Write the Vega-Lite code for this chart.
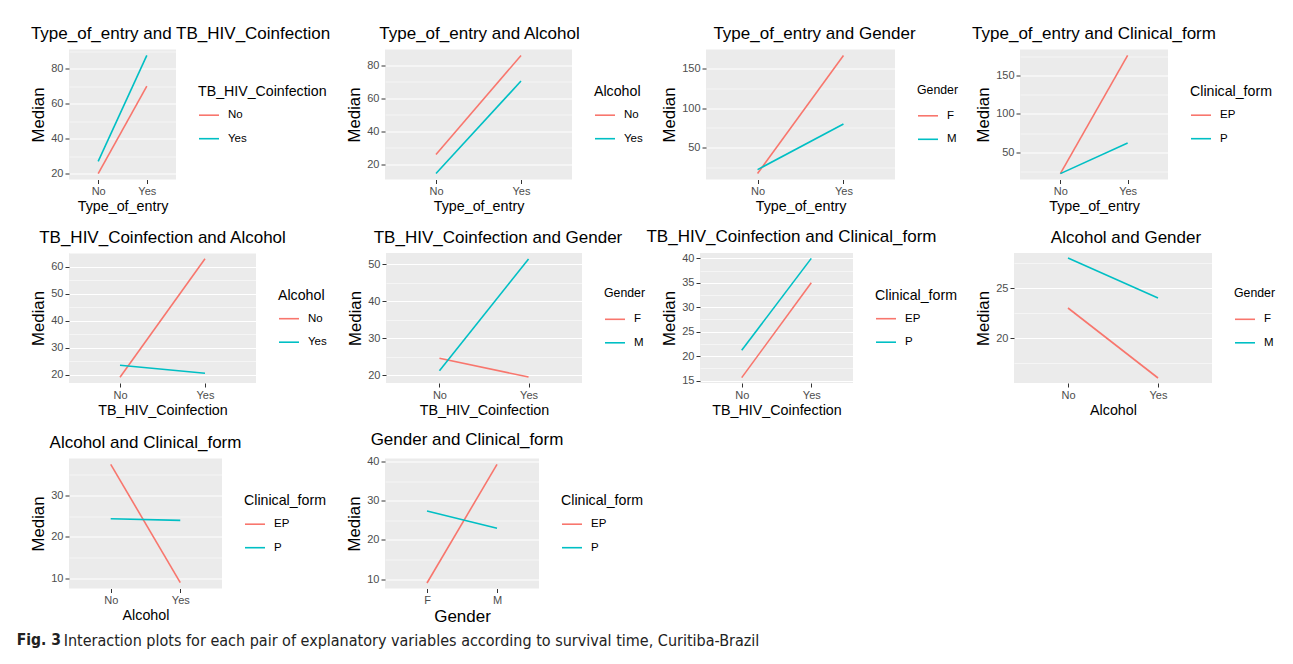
{
  "$schema": "https://vega.github.io/schema/vega-lite/v6.json",
  "background": "white",
  "padding": {"left": 16, "top": 24.5, "right": 0, "bottom": 0},
  "data": {"values": [
    {"panel": "Type_of_entry and TB_HIV_Coinfection", "x": "No", "group": "No", "median": 20},
    {"panel": "Type_of_entry and TB_HIV_Coinfection", "x": "Yes", "group": "No", "median": 70},
    {"panel": "Type_of_entry and TB_HIV_Coinfection", "x": "No", "group": "Yes", "median": 27},
    {"panel": "Type_of_entry and TB_HIV_Coinfection", "x": "Yes", "group": "Yes", "median": 87.5},
    {"panel": "Type_of_entry and Alcohol", "x": "No", "group": "No", "median": 26},
    {"panel": "Type_of_entry and Alcohol", "x": "Yes", "group": "No", "median": 86},
    {"panel": "Type_of_entry and Alcohol", "x": "No", "group": "Yes", "median": 14.5},
    {"panel": "Type_of_entry and Alcohol", "x": "Yes", "group": "Yes", "median": 70.5},
    {"panel": "Type_of_entry and Gender", "x": "No", "group": "F", "median": 17.5},
    {"panel": "Type_of_entry and Gender", "x": "Yes", "group": "F", "median": 166.5},
    {"panel": "Type_of_entry and Gender", "x": "No", "group": "M", "median": 22.5},
    {"panel": "Type_of_entry and Gender", "x": "Yes", "group": "M", "median": 80},
    {"panel": "Type_of_entry and Clinical_form", "x": "No", "group": "EP", "median": 22},
    {"panel": "Type_of_entry and Clinical_form", "x": "Yes", "group": "EP", "median": 176.5},
    {"panel": "Type_of_entry and Clinical_form", "x": "No", "group": "P", "median": 22},
    {"panel": "Type_of_entry and Clinical_form", "x": "Yes", "group": "P", "median": 62},
    {"panel": "TB_HIV_Coinfection and Alcohol", "x": "No", "group": "No", "median": 19},
    {"panel": "TB_HIV_Coinfection and Alcohol", "x": "Yes", "group": "No", "median": 63},
    {"panel": "TB_HIV_Coinfection and Alcohol", "x": "No", "group": "Yes", "median": 23.5},
    {"panel": "TB_HIV_Coinfection and Alcohol", "x": "Yes", "group": "Yes", "median": 20.5},
    {"panel": "TB_HIV_Coinfection and Gender", "x": "No", "group": "F", "median": 24.6},
    {"panel": "TB_HIV_Coinfection and Gender", "x": "Yes", "group": "F", "median": 19.5},
    {"panel": "TB_HIV_Coinfection and Gender", "x": "No", "group": "M", "median": 21.2},
    {"panel": "TB_HIV_Coinfection and Gender", "x": "Yes", "group": "M", "median": 51.4},
    {"panel": "TB_HIV_Coinfection and Clinical_form", "x": "No", "group": "EP", "median": 15.6},
    {"panel": "TB_HIV_Coinfection and Clinical_form", "x": "Yes", "group": "EP", "median": 35},
    {"panel": "TB_HIV_Coinfection and Clinical_form", "x": "No", "group": "P", "median": 21.2},
    {"panel": "TB_HIV_Coinfection and Clinical_form", "x": "Yes", "group": "P", "median": 40},
    {"panel": "Alcohol and Gender", "x": "No", "group": "F", "median": 23},
    {"panel": "Alcohol and Gender", "x": "Yes", "group": "F", "median": 16},
    {"panel": "Alcohol and Gender", "x": "No", "group": "M", "median": 28},
    {"panel": "Alcohol and Gender", "x": "Yes", "group": "M", "median": 24},
    {"panel": "Alcohol and Clinical_form", "x": "No", "group": "EP", "median": 37.5},
    {"panel": "Alcohol and Clinical_form", "x": "Yes", "group": "EP", "median": 9},
    {"panel": "Alcohol and Clinical_form", "x": "No", "group": "P", "median": 24.4},
    {"panel": "Alcohol and Clinical_form", "x": "Yes", "group": "P", "median": 24},
    {"panel": "Gender and Clinical_form", "x": "F", "group": "EP", "median": 9},
    {"panel": "Gender and Clinical_form", "x": "M", "group": "EP", "median": 39.3},
    {"panel": "Gender and Clinical_form", "x": "F", "group": "P", "median": 27.4},
    {"panel": "Gender and Clinical_form", "x": "M", "group": "P", "median": 23}
  ]},
  "title": {"text": "Fig. 3", "orient": "bottom", "anchor": "start", "font": "DejaVu Sans Condensed", "fontSize": 15.5, "fontWeight": "bold", "color": "#222222", "offset": 0, "dy": -4, "dx": -14, "baseline": "alphabetic"},
  "vconcat": [
    {
      "title": {"text": "Interaction plots for each pair of explanatory variables according to survival time, Curitiba-Brazil", "orient": "bottom", "anchor": "start", "font": "DejaVu Sans Condensed", "fontSize": 16, "fontWeight": "normal", "color": "#222222", "dx": 33, "offset": 21, "baseline": "alphabetic"},
      "spacing": 12.5,
      "resolve": {"scale": {"x": "independent", "y": "independent", "color": "independent"}, "legend": {"color": "independent"}, "axis": {"x": "independent", "y": "independent"}},
      "vconcat": [
        {
          "spacing": 0,
          "resolve": {"scale": {"x": "independent", "y": "independent", "color": "independent"}, "legend": {"color": "independent"}, "axis": {"x": "independent", "y": "independent"}},
          "hconcat": [
            {
              "width": 107, "height": 130,
              "title": {"text": "Type_of_entry and TB_HIV_Coinfection", "dx": 58},
              "transform": [{"filter": "datum.panel === 'Type_of_entry and TB_HIV_Coinfection'"}],
              "mark": {"type": "line", "strokeWidth": 1.6},
              "encoding": {
                "x": {"field": "x", "type": "nominal", "scale": {"type": "point", "padding": 0.6, "domain": ["No", "Yes"]}, "axis": {"title": "Type_of_entry"}},
                "y": {"field": "median", "type": "quantitative", "scale": {"domain": [16.6, 90.9], "nice": false, "zero": false},
                  "axis": {"title": "Median", "values": [20, 30, 40, 50, 60, 70, 80, 90], "labelExpr": "datum.value % 20 === 0 ? datum.value + '' : ''",
                    "gridWidth": {"condition": {"test": "datum.value % 20 === 0", "value": 1.1}, "value": 0.5},
                    "tickOpacity": {"condition": {"test": "datum.value % 20 === 0", "value": 1}, "value": 0}}},
                "color": {"field": "group", "type": "nominal", "scale": {"domain": ["No", "Yes"], "range": ["#F8766D", "#00BFC4"]},
                  "legend": {"title": "TB_HIV_Coinfection", "orient": "none", "legendX": 110, "legendY": 16.5, "padding": 19}}
              }
            },
            {
              "width": 187, "height": 130,
              "title": {"text": "Type_of_entry and Alcohol", "dx": 1},
              "transform": [{"filter": "datum.panel === 'Type_of_entry and Alcohol'"}],
              "mark": {"type": "line", "strokeWidth": 1.6},
              "encoding": {
                "x": {"field": "x", "type": "nominal", "scale": {"type": "point", "padding": 0.6, "domain": ["No", "Yes"]}, "axis": {"title": "Type_of_entry"}},
                "y": {"field": "median", "type": "quantitative", "scale": {"domain": [10.9, 89.6], "nice": false, "zero": false},
                  "axis": {"title": "Median", "values": [20, 30, 40, 50, 60, 70, 80], "labelExpr": "datum.value % 20 === 0 ? datum.value + '' : ''",
                    "gridWidth": {"condition": {"test": "datum.value % 20 === 0", "value": 1.1}, "value": 0.5},
                    "tickOpacity": {"condition": {"test": "datum.value % 20 === 0", "value": 1}, "value": 0}}},
                "color": {"field": "group", "type": "nominal", "scale": {"domain": ["No", "Yes"], "range": ["#F8766D", "#00BFC4"]},
                  "legend": {"title": "Alcohol", "orient": "none", "legendX": 191, "legendY": 17.5, "padding": 18}}
              }
            },
            {
              "width": 189, "height": 130,
              "title": {"text": "Type_of_entry and Gender", "dx": 14},
              "transform": [{"filter": "datum.panel === 'Type_of_entry and Gender'"}],
              "mark": {"type": "line", "strokeWidth": 1.6},
              "encoding": {
                "x": {"field": "x", "type": "nominal", "scale": {"type": "point", "padding": 0.6, "domain": ["No", "Yes"]}, "axis": {"title": "Type_of_entry"}},
                "y": {"field": "median", "type": "quantitative", "scale": {"domain": [10, 174], "nice": false, "zero": false},
                  "axis": {"title": "Median", "values": [25, 50, 75, 100, 125, 150], "labelExpr": "datum.value % 50 === 0 ? datum.value + '' : ''",
                    "gridWidth": {"condition": {"test": "datum.value % 50 === 0", "value": 1.1}, "value": 0.5},
                    "tickOpacity": {"condition": {"test": "datum.value % 50 === 0", "value": 1}, "value": 0}}},
                "color": {"field": "group", "type": "nominal", "scale": {"domain": ["F", "M"], "range": ["#F8766D", "#00BFC4"]},
                  "legend": {"title": "Gender", "titleFontSize": 12.3, "titlePadding": 9, "orient": "none", "legendX": 198, "legendY": 21, "padding": 13}}
              }
            },
            {
              "width": 148, "height": 130,
              "title": {"text": "Type_of_entry and Clinical_form", "dx": 0},
              "transform": [{"filter": "datum.panel === 'Type_of_entry and Clinical_form'"}],
              "mark": {"type": "line", "strokeWidth": 1.6},
              "encoding": {
                "x": {"field": "x", "type": "nominal", "scale": {"type": "point", "padding": 0.6, "domain": ["No", "Yes"]}, "axis": {"title": "Type_of_entry"}},
                "y": {"field": "median", "type": "quantitative", "scale": {"domain": [14.3, 184.2], "nice": false, "zero": false},
                  "axis": {"title": "Median", "values": [25, 50, 75, 100, 125, 150, 175], "labelExpr": "datum.value % 50 === 0 ? datum.value + '' : ''",
                    "gridWidth": {"condition": {"test": "datum.value % 50 === 0", "value": 1.1}, "value": 0.5},
                    "tickOpacity": {"condition": {"test": "datum.value % 50 === 0", "value": 1}, "value": 0}}},
                "color": {"field": "group", "type": "nominal", "scale": {"domain": ["EP", "P"], "range": ["#F8766D", "#00BFC4"]},
                  "legend": {"title": "Clinical_form", "orient": "none", "legendX": 170, "legendY": 35.5, "padding": 0}}
              }
            }
          ]
        },
        {
          "spacing": 0,
          "resolve": {"scale": {"x": "independent", "y": "independent", "color": "independent"}, "legend": {"color": "independent"}, "axis": {"x": "independent", "y": "independent"}},
          "hconcat": [
            {
              "width": 187, "height": 130,
              "title": {"text": "TB_HIV_Coinfection and Alcohol", "dx": 0},
              "transform": [{"filter": "datum.panel === 'TB_HIV_Coinfection and Alcohol'"}],
              "mark": {"type": "line", "strokeWidth": 1.6},
              "encoding": {
                "x": {"field": "x", "type": "nominal", "scale": {"type": "point", "padding": 0.6, "domain": ["No", "Yes"]}, "axis": {"title": "TB_HIV_Coinfection"}},
                "y": {"field": "median", "type": "quantitative", "scale": {"domain": [16.9, 65.1], "nice": false, "zero": false},
                  "axis": {"title": "Median", "values": [20, 25, 30, 35, 40, 45, 50, 55, 60, 65], "labelExpr": "datum.value % 10 === 0 ? datum.value + '' : ''",
                    "gridWidth": {"condition": {"test": "datum.value % 10 === 0", "value": 1.1}, "value": 0.5},
                    "tickOpacity": {"condition": {"test": "datum.value % 10 === 0", "value": 1}, "value": 0}}},
                "color": {"field": "group", "type": "nominal", "scale": {"domain": ["No", "Yes"], "range": ["#F8766D", "#00BFC4"]},
                  "legend": {"title": "Alcohol", "orient": "none", "legendX": 189, "legendY": 15.5, "padding": 20}}
              }
            },
            {
              "width": 196, "height": 130,
              "title": {"text": "TB_HIV_Coinfection and Gender", "dx": 14},
              "transform": [{"filter": "datum.panel === 'TB_HIV_Coinfection and Gender'"}],
              "mark": {"type": "line", "strokeWidth": 1.6},
              "encoding": {
                "x": {"field": "x", "type": "nominal", "scale": {"type": "point", "padding": 0.6, "domain": ["No", "Yes"]}, "axis": {"title": "TB_HIV_Coinfection"}},
                "y": {"field": "median", "type": "quantitative", "scale": {"domain": [17.9, 53.0], "nice": false, "zero": false},
                  "axis": {"title": "Median", "values": [20, 25, 30, 35, 40, 45, 50], "labelExpr": "datum.value % 10 === 0 ? datum.value + '' : ''",
                    "gridWidth": {"condition": {"test": "datum.value % 10 === 0", "value": 1.1}, "value": 0.5},
                    "tickOpacity": {"condition": {"test": "datum.value % 10 === 0", "value": 1}, "value": 0}}},
                "color": {"field": "group", "type": "nominal", "scale": {"domain": ["F", "M"], "range": ["#F8766D", "#00BFC4"]},
                  "legend": {"title": "Gender", "titleFontSize": 12.3, "titlePadding": 9, "orient": "none", "legendX": 218, "legendY": 34, "padding": 0}}
              }
            },
            {
              "width": 153, "height": 130,
              "title": {"text": "TB_HIV_Coinfection and Clinical_form", "dx": 15},
              "transform": [{"filter": "datum.panel === 'TB_HIV_Coinfection and Clinical_form'"}],
              "mark": {"type": "line", "strokeWidth": 1.6},
              "encoding": {
                "x": {"field": "x", "type": "nominal", "scale": {"type": "point", "padding": 0.6, "domain": ["No", "Yes"]}, "axis": {"title": "TB_HIV_Coinfection"}},
                "y": {"field": "median", "type": "quantitative", "scale": {"domain": [14.5, 41.1], "nice": false, "zero": false},
                  "axis": {"title": "Median", "values": [15, 17.5, 20, 22.5, 25, 27.5, 30, 32.5, 35, 37.5, 40], "labelExpr": "datum.value % 5 === 0 ? datum.value + '' : ''",
                    "gridWidth": {"condition": {"test": "datum.value % 5 === 0", "value": 1.1}, "value": 0.5},
                    "tickOpacity": {"condition": {"test": "datum.value % 5 === 0", "value": 1}, "value": 0}}},
                "color": {"field": "group", "type": "nominal", "scale": {"domain": ["EP", "P"], "range": ["#F8766D", "#00BFC4"]},
                  "legend": {"title": "Clinical_form", "orient": "none", "legendX": 157, "legendY": 17.5, "padding": 18}}
              }
            },
            {
              "width": 198, "height": 130,
              "title": {"text": "Alcohol and Gender", "dx": 13},
              "transform": [{"filter": "datum.panel === 'Alcohol and Gender'"}],
              "mark": {"type": "line", "strokeWidth": 1.6},
              "encoding": {
                "x": {"field": "x", "type": "nominal", "scale": {"type": "point", "padding": 0.6, "domain": ["No", "Yes"]}, "axis": {"title": "Alcohol"}},
                "y": {"field": "median", "type": "quantitative", "scale": {"domain": [15.5, 28.5], "nice": false, "zero": false},
                  "axis": {"title": "Median", "values": [17.5, 20, 22.5, 25, 27.5], "labelExpr": "datum.value % 5 === 0 ? datum.value + '' : ''",
                    "gridWidth": {"condition": {"test": "datum.value % 5 === 0", "value": 1.1}, "value": 0.5},
                    "tickOpacity": {"condition": {"test": "datum.value % 5 === 0", "value": 1}, "value": 0}}},
                "color": {"field": "group", "type": "nominal", "scale": {"domain": ["F", "M"], "range": ["#F8766D", "#00BFC4"]},
                  "legend": {"title": "Gender", "titleFontSize": 12.3, "titlePadding": 9, "orient": "none", "legendX": 220, "legendY": 34, "padding": 0}}
              }
            }
          ]
        },
        {
          "spacing": 0,
          "resolve": {"scale": {"x": "independent", "y": "independent", "color": "independent"}, "legend": {"color": "independent"}, "axis": {"x": "independent", "y": "independent"}},
          "hconcat": [
            {
              "width": 153, "height": 130,
              "title": {"text": "Alcohol and Clinical_form", "dx": 0},
              "transform": [{"filter": "datum.panel === 'Alcohol and Clinical_form'"}],
              "mark": {"type": "line", "strokeWidth": 1.6},
              "encoding": {
                "x": {"field": "x", "type": "nominal", "scale": {"type": "point", "padding": 0.6, "domain": ["No", "Yes"]}, "axis": {"title": "Alcohol"}},
                "y": {"field": "median", "type": "quantitative", "scale": {"domain": [7.6, 38.9], "nice": false, "zero": false},
                  "axis": {"title": "Median", "values": [10, 15, 20, 25, 30, 35], "labelExpr": "datum.value % 10 === 0 ? datum.value + '' : ''",
                    "gridWidth": {"condition": {"test": "datum.value % 10 === 0", "value": 1.1}, "value": 0.5},
                    "tickOpacity": {"condition": {"test": "datum.value % 10 === 0", "value": 1}, "value": 0}}},
                "color": {"field": "group", "type": "nominal", "scale": {"domain": ["EP", "P"], "range": ["#F8766D", "#00BFC4"]},
                  "legend": {"title": "Clinical_form", "orient": "none", "legendX": 155, "legendY": 15.5, "padding": 20}}
              }
            },
            {
              "width": 154, "height": 130,
              "title": {"text": "Gender and Clinical_form", "dx": 5},
              "transform": [{"filter": "datum.panel === 'Gender and Clinical_form'"}],
              "mark": {"type": "line", "strokeWidth": 1.6},
              "encoding": {
                "x": {"field": "x", "type": "nominal", "scale": {"type": "point", "padding": 0.6, "domain": ["F", "M"]}, "axis": {"title": "Gender", "titleFontSize": 17}},
                "y": {"field": "median", "type": "quantitative", "scale": {"domain": [7.6, 40.8], "nice": false, "zero": false},
                  "axis": {"title": "Median", "values": [10, 15, 20, 25, 30, 35, 40], "labelExpr": "datum.value % 10 === 0 ? datum.value + '' : ''",
                    "gridWidth": {"condition": {"test": "datum.value % 10 === 0", "value": 1.1}, "value": 0.5},
                    "tickOpacity": {"condition": {"test": "datum.value % 10 === 0", "value": 1}, "value": 0}}},
                "color": {"field": "group", "type": "nominal", "scale": {"domain": ["EP", "P"], "range": ["#F8766D", "#00BFC4"]},
                  "legend": {"title": "Clinical_form", "orient": "none", "legendX": 176, "legendY": 35.5, "padding": 0}}
              }
            }
          ]
        }
      ]
    }
  ],
  "config": {
    "font": "Liberation Sans",
    "view": {"fill": "#EBEBEB", "stroke": null},
    "title": {"font": "Liberation Sans", "fontSize": 17, "fontWeight": "normal", "color": "#000000", "anchor": "middle", "offset": 6.5, "baseline": "alphabetic"},
    "axis": {"gridColor": "#FFFFFF", "domain": false, "tickColor": "#333333", "tickWidth": 1, "tickSize": 4, "labelColor": "#4D4D4D", "labelFontSize": 11, "labelFont": "Liberation Sans", "titleFont": "Liberation Sans", "titleFontWeight": "normal", "titleColor": "#000000", "labelPadding": 2},
    "axisX": {"labelAngle": 0, "titleFontSize": 14.3, "titlePadding": 3, "gridWidth": 1.1},
    "axisY": {"titleFontSize": 16.8, "titlePadding": 3},
    "legend": {"titleFont": "Liberation Sans", "titleFontSize": 14.2, "titleFontWeight": "normal", "titleColor": "#000000", "labelFont": "Liberation Sans", "labelFontSize": 11.5, "labelColor": "#000000", "symbolType": "stroke", "symbolSize": 400, "symbolStrokeWidth": 1.6, "labelOffset": 8, "rowPadding": 6.5, "titlePadding": 5}
  }
}
